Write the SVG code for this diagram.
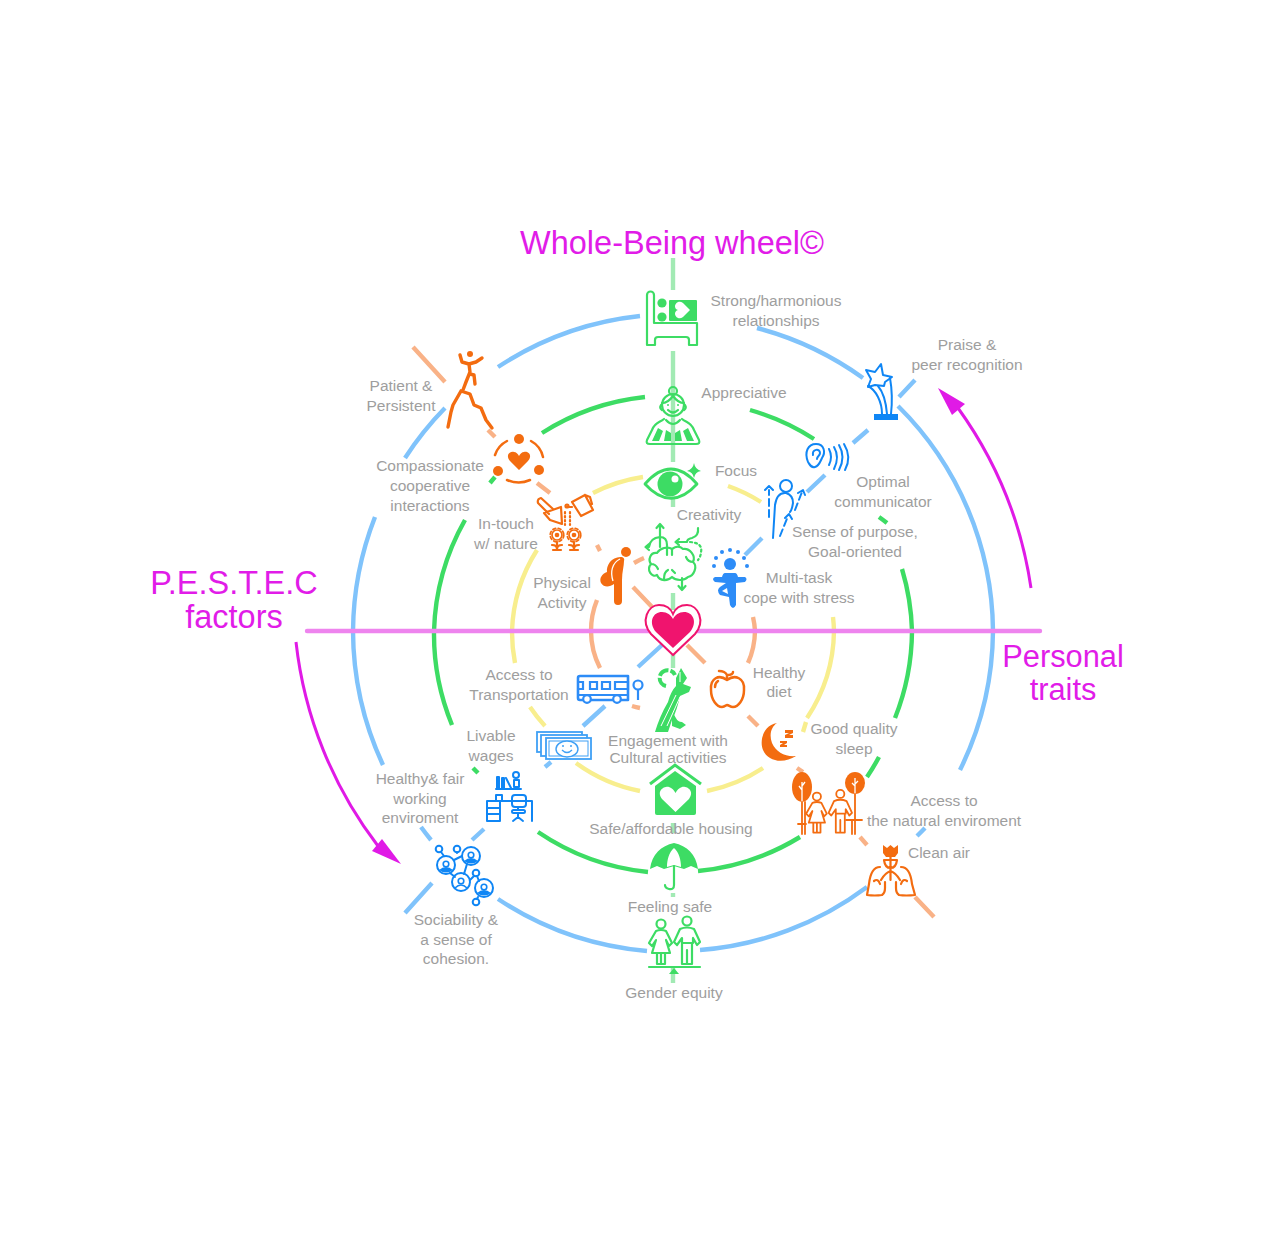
<svg xmlns="http://www.w3.org/2000/svg" width="1274" height="1235" viewBox="0 0 1274 1235">
<style>
text{font-family:"Liberation Sans",Arial,sans-serif;text-anchor:middle}
.l{font-size:15.5px;fill:#9e9e9e}
.t{font-size:32.5px;fill:#e11ce8}
.t2{font-size:30.8px;fill:#e11ce8}
.b,.g,.y,.o,.v,.h,.d1,.d2{fill:none;stroke-width:4.4}
.b{stroke:#80c3fb}.g{stroke:#3ddc64}.y{stroke:#f8ee8e}.o{stroke:#f9b287}
.v{stroke:#a2eab4}.h{stroke:#ee84ee;stroke-linecap:round}.d1{stroke:#f9b287}.d2{stroke:#80c3fb}
.gs{fill:none;stroke:#3ddc64;stroke-width:2.2;stroke-linecap:round;stroke-linejoin:round}
.gf{fill:#3ddc64}
.os{fill:none;stroke:#f36c10;stroke-width:2.2;stroke-linecap:round;stroke-linejoin:round}
.of{fill:#f36c10}
.bs{fill:none;stroke:#0f86f5;stroke-width:2;stroke-linecap:round;stroke-linejoin:round}
.bf{fill:#0f86f5}
.ws{fill:none;stroke:#3fa0f5;stroke-width:1.800}
.ms{fill:none;stroke:#e01ae6;stroke-width:3}
.mf{fill:#e01ae6}
</style>
<defs>
<g id="couple">
<circle cx="661" cy="924" r="4.500"/><circle cx="687" cy="921" r="4.500"/>
<path d="M656 931Q661 929 666 931L672 943L669 946L666 940L670 953H652L656 940L652 946L649 943ZM657 953V964H661V953M661 964H665V953"/>
<path d="M680 929Q687 926 694 929L700 942L697 945L693 938V943H682V938L677 945L674 942ZM682 943V964H687V950M687 964H692V943"/>
</g>
<g id="pc"><circle r="9" fill="none" stroke="#0f86f5" stroke-width="2"/><circle cy="-1" r="2.800" fill="none" stroke="#0f86f5" stroke-width="1.600"/></g>
<path id="sh" fill="#0f86f5" d="M-7 5Q0-1 7 5Q0 10-7 5Z"/>
</defs>
<g id="connectors">
<path class="b" d="M383 765A320 320 0 0 1 353 631A320 320 0 0 1 375 517M405 458A320 320 0 0 1 445 408M498 367A320 320 0 0 1 640 316M757 328A320 320 0 0 1 863 378M898 406A320 320 0 0 1 993 631A320 320 0 0 1 960 770M925 828A320 320 0 0 1 917 836M867 887A320 320 0 0 1 700 950M647 951A320 320 0 0 1 498 899M431 840A320 320 0 0 1 421 827"/>
<path class="g" d="M452 725A239 239 0 0 1 434 631A239 239 0 0 1 465 520M490 483A239 239 0 0 1 495 477M542 433A239 239 0 0 1 645 397M750 410A239 239 0 0 1 814 439M879 517A239 239 0 0 1 887 523M902 569A239 239 0 0 1 912 631A239 239 0 0 1 895 718M879 757A239 239 0 0 1 867 777M800 837A239 239 0 0 1 698 871M648 872A239 239 0 0 1 538 832M478 773A239 239 0 0 1 473 768"/>
<path class="y" d="M515 663A161 161 0 0 1 512 631A161 161 0 0 1 537 550M593 493A161 161 0 0 1 643 477M728 486A161 161 0 0 1 761 502M833 617A161 161 0 0 1 834 631A161 161 0 0 1 807 718M806 722L803 732M763 768A161 161 0 0 1 707 791M640 791A161 161 0 0 1 576 763M545 726A161 161 0 0 1 530 707"/>
<path class="o" d="M600 668A82 82 0 0 1 591 631A82 82 0 0 1 597 600M634 563A82 82 0 0 1 644 558M753 617A82 82 0 0 1 755 631A82 82 0 0 1 748 663M640 708A82 82 0 0 1 632 706"/>
<path class="v" d="M673 258V290M673 351V462M673 497V507M673 593V610M673 650V668M673 823V833M673 893V897M673 968V983"/>
<path class="d1" d="M413 347L445 382M488 430L495 437M537 483L550 493M597 545L600 551M633 587L653 608M687 645L705 663M748 716L758 726M797 768L803 772M860 837L867 845M915 897L934 917"/>
<path class="d2" d="M405 913L432 883M472 840L484 829M545 767L551 762M583 726L605 706M638 667L662 645M745 555L762 538M807 492L825 475M853 443L868 430M899 397L915 380"/>
<path class="h" d="M307 631H1040"/>
<path class="ms" d="M1031 588A410 410 0 0 0 958 408"/>
<polygon class="mf" points="938,388 965,404 952,415"/>
<path class="ms" d="M296 642A410 410 0 0 0 378 846"/>
<polygon class="mf" points="401,864 372,851 382,839"/>
</g>

<g id="titles">
<text class="t" x="672" y="254">Whole-Being wheel©</text>
<text class="t" x="234" y="594">P.E.S.T.E.C</text>
<text class="t" x="234" y="628">factors</text>
<text class="t2" x="1063" y="667">Personal</text>
<text class="t2" x="1063" y="700">traits</text>
</g>

<g id="node-heart">
<path fill="#fff" stroke="#f0146e" stroke-width="2" d="M673 655L651 634C640 621 648 605 659 605C666 605 671 609 673 614C675 609 680 605 687 605C698 605 706 621 695 634Z"/>
<path fill="#f0146e" d="M673 648L656 632C648 622 653 612 662 612C667 612 671 615 673 619C675 615 679 612 684 612C693 612 698 622 690 632Z"/>
</g>

<g id="node-relationships">
<path class="gs" d="M647 295a3.500 3.500 0 0 1 7 0V323H697V345H689V340a3 3 0 0 0-3-3H658a3 3 0 0 0-3 3V345H647Z"/>
<circle class="gf" cx="662" cy="303" r="4.600"/><circle class="gf" cx="662" cy="317" r="4.600"/>
<rect class="gf" x="669" y="300" width="28" height="21" rx="1"/>
<path fill="#fff" transform="translate(682 310) rotate(-90)" d="M0 8L-7 1C-10-3-7-7-3.500-7C-2-7-.5-6 0-4C.5-6 2-7 3.500-7C7-7 10-3 7 1Z"/>
<text class="l" x="776" y="306">Strong/harmonious</text><text class="l" x="776" y="326">relationships</text>
</g>

<g id="node-appreciative">
<circle class="gs" cx="673" cy="391" r="4"/>
<circle class="gs" cx="673" cy="405" r="11"/>
<path class="gs" d="M662 403Q668 403 673 396Q678 403 684 403M668 410Q673 415 678 410M661 405Q659 408 662 410M685 405Q687 408 684 410"/>
<circle class="gf" cx="668" cy="405" r="1"/><circle class="gf" cx="678" cy="405" r="1"/>
<path class="gs" d="M664 419C659 423 655 422 652 430L647 440C646 443 647 444 650 444H696C699 444 700 443 699 440L694 430C691 422 687 423 682 419M666 420Q673 428 680 420"/>
<path class="gf" d="M658 428L652 441H659L663 431ZM666 430L664 441H671L671 433ZM688 428L694 441H687L683 431ZM680 430L682 441H675L675 433Z"/>
<text class="l" x="744" y="398">Appreciative</text>
</g>

<g id="node-focus">
<path class="gs" d="M645 484C662 464 680 464 697 484C680 503 662 503 645 484Z" style="stroke-width:2.800"/>
<circle class="gf" cx="670" cy="484" r="12.500"/><circle fill="#fff" cx="675" cy="479" r="3.500"/>
<path class="gf" d="M694 463Q695 469 701 471Q695 472 694 478Q693 472 687 471Q693 469 694 463Z"/>
<text class="l" x="736" y="476">Focus</text>
</g>

<g id="node-creativity">
<path class="gs" d="M660 524V547M656.500 528L660 524L663.500 528M667 555V545Q667 537 660 537Q650 538 649 547H646M649 544L645.500 547L649 550M698 528Q699 536 692 538Q687 539 687 542H676M679 539L675.500 542L679 545"/>
<path class="gs" d="M657 553C650 552 648 560 651 564C646 570 652 578 657 575C660 582 668 581 672 577C676 581 684 581 688 577C694 576 698 566 693 562C696 556 690 548 683 549C680 546 676 546 672 549C668 546 660 548 657 553ZM672 549V555M682 578V589M678.500 586L682 590L685.500 586M651 564Q656 564 658 569M693 562Q688 562 686 557M664 579Q664 572 668 570M672 570L675 573"/>
<path class="gs" stroke-dasharray="2 3" d="M690 542Q703 543 701 552Q701 556 698 560"/>
<text class="l" x="709" y="520">Creativity</text>
</g>

<g id="node-physical">
<circle class="of" cx="626" cy="552" r="5"/>
<path class="of" d="M622 557C612 556 606 565 607 572C602 574 599 578 601 583C604 588 610 587 614 584V601Q614 605 618 605Q622 605 622 601V580C622 572 624 566 624 561Q625 558 622 557Z"/>
<path fill="none" stroke="#fff" stroke-width="1.300" d="M620 559C612 563 610 572 613 581"/>
<text class="l" x="562" y="588">Physical</text><text class="l" x="562" y="608">Activity</text>
</g>

<g id="node-multitask">
<circle fill="#2d8cf7" cx="730" cy="564" r="6"/>
<g fill="#2d8cf7"><circle cx="714" cy="566" r="2"/><circle cx="716" cy="558" r="2"/><circle cx="722" cy="552" r="2"/><circle cx="730" cy="550" r="2"/><circle cx="738" cy="552" r="2"/><circle cx="744" cy="558" r="2"/><circle cx="747" cy="566" r="2"/></g>
<path fill="#2d8cf7" d="M725 573H735Q737 573 738 577H745Q748 579 745 582L736 583V605Q733 611 730 605L729 597L720 595Q716 590 720 587L726 583L715 582Q711 579 715 577H722Q723 573 725 573Z"/>
<path fill="#fff" d="M727 588L722 591L728 594Z"/>
<text class="l" x="799" y="583">Multi-task</text><text class="l" x="799" y="603">cope with stress</text>
</g>

<g id="node-purpose">
<circle class="bs" cx="786" cy="486" r="6"/>
<path class="bs" d="M773 538L775 505Q777 492 786 493Q793 495 793 503Q792 510 790 512"/>
<path class="bs" stroke-dasharray="7 4" d="M769 517V490M780 536L788 516M795 510L802 492"/>
<path class="bs" d="M765 490l4-4 4 4M785 518l4-4 3 5M798 493l5-3 2 5"/>
<text class="l" x="855" y="537">Sense of purpose,</text><text class="l" x="855" y="557">Goal-oriented</text>
</g>

<g id="node-optimal">
<path class="bs" d="M808 462C804 452 808 444 816 444C824 444 826 452 822 458C820 462 819 466 815 467C811 468 810 465 808 462ZM813 455C812 449 820 448 820 453C820 456 817 456 817 459"/>
<path class="bs" d="M829 449Q833 457 829 465M834 447Q840 457 834 469M839 445Q846 457 839 470M844 444Q852 457 845 470"/>
<text class="l" x="883" y="487">Optimal</text><text class="l" x="883" y="507">communicator</text>
</g>

<g id="node-praise">
<path class="bs" d="M881 364L883 375L892 377L885 382L884 386L875 385L868 387L871 379L866 370L875 372Z"/>
<path class="bs" d="M868 386C876 390 882 402 882 414M878 386C884 393 886 402 887 414M890 378C893 395 892 405 891 414"/>
<rect class="bf" x="874" y="414" width="24" height="6"/>
<text class="l" x="967" y="350">Praise &amp;</text><text class="l" x="967" y="370">peer recognition</text>
</g>

<g id="node-patient">
<circle class="of" cx="470" cy="354" r="3"/>
<path class="os" style="stroke-width:3.400" d="M460 355L462 362L469 364L476 362L482 358M469 364L470 372L466 382L463 390M470 374L474 375L475 384M461 391L453 405L451 412L448 427M461 391L470 394L474 405L481 408L486 420L492 428"/>
<text class="l" x="401" y="391">Patient &amp;</text><text class="l" x="401" y="411">Persistent</text>
</g>

<g id="node-compassionate">
<circle class="of" cx="519" cy="439" r="5"/><circle class="of" cx="498" cy="471" r="5"/><circle class="of" cx="539" cy="470" r="5"/>
<path class="os" style="stroke-width:2.500" d="M507 441A24 24 0 0 0 495 455M531 441A24 24 0 0 1 543 457M507 480Q519 485 530 480"/>
<path class="of" d="M519 470L510 461C505 455 510 451 514 452C516 452 518 454 519 456C520 454 522 452 524 452C528 451 533 455 528 461Z"/>
<text class="l" x="430" y="471">Compassionate</text><text class="l" x="430" y="491">cooperative</text><text class="l" x="430" y="511">interactions</text>
</g>

<g id="node-nature">
<path class="os" d="M553 509L541 498Q537 499 538 503L549 514M561 507L562 524L550 520L544 513Z"/>
<path class="os" d="M572 502L585 495L593 510L581 516ZM585 495L590 497L592 504M572 507H567"/>
<circle class="os" cx="567" cy="506" r="1.500"/>
<path class="os" stroke-dasharray="1.500 2.500" d="M565 512V525M570 512V525"/>
<g class="os" style="stroke-width:1.700"><circle cx="557" cy="535" r="5"/><circle cx="574" cy="535" r="5"/><circle cx="557" cy="535" r="6.800" stroke-dasharray="3 2.500"/><circle cx="574" cy="535" r="6.800" stroke-dasharray="3 2.500"/></g>
<circle class="of" cx="557" cy="535" r="2.300"/><circle class="of" cx="574" cy="535" r="2.300"/>
<path class="os" d="M557 542V550M574 542V550M552 545Q557 545 557 549Q557 545 562 545M569 545Q574 545 574 549Q574 545 579 545M553 550H561M570 550H578"/>
<text class="l" x="506" y="529">In-touch</text><text class="l" x="506" y="549">w/ nature</text>
</g>

<g id="node-transport">
<path d="M580 676H628V700H580Q578 700 578 698V678Q578 676 580 676Z" fill="none" stroke="#2d8cf7" stroke-width="2.600" stroke-linejoin="round"/>
<path fill="none" stroke="#2d8cf7" stroke-width="2.200" d="M578 682H583V689H578M590 682H597V689H590ZM602 682H610V689H602ZM615 682H628V689H615ZM578 695H628"/>
<circle cx="587" cy="699" r="3.800" fill="#fff" stroke="#2d8cf7" stroke-width="2.200"/><circle cx="617" cy="699" r="3.800" fill="#fff" stroke="#2d8cf7" stroke-width="2.200"/>
<circle cx="638" cy="685" r="4.500" fill="none" stroke="#2d8cf7" stroke-width="2.200"/><path stroke="#2d8cf7" stroke-width="2.200" d="M638 690V700"/>
<text class="l" x="519" y="680">Access to</text><text class="l" x="519" y="700">Transportation</text>
</g>

<g id="node-culture">
<path fill="none" stroke="#3ddc64" stroke-width="4" stroke-dasharray="11 2" d="M666 686A8 8 0 1 1 675 675"/>
<path class="gf" d="M681 668L687 678L683 684L691 687L689 692L680 696C678 705 676 712 672 720L668 732L655 732C658 722 662 712 668 702C670 695 672 690 676 686L676 678Z"/>
<path class="gf" d="M672 712C676 716 676 722 682 722L686 725L680 729L672 726Z"/>
<path fill="none" stroke="#fff" stroke-width="1" d="M661 726L676 695M667 726L680 697M680 672V682"/>
<text class="l" x="668" y="746">Engagement with</text><text class="l" x="668" y="763">Cultural activities</text>
</g>

<g id="node-diet">
<path class="os" style="stroke-width:2.500" d="M727 680C719 674 710 678 711 690C711 700 717 707 722 707C725 707 726 705 727 705C729 705 730 707 733 707C738 707 744 700 744 690C745 678 735 674 727 680ZM727 680L727 675M719 671Q725 671 727 675Q733 675 733 672M715 687Q715 683 718 681"/>
<text class="l" x="779" y="678">Healthy</text><text class="l" x="779" y="697">diet</text>
</g>

<g id="node-wages">
<rect class="ws" x="537" y="732" width="45" height="20" style="fill:#fff"/>
<rect class="ws" x="541" y="735" width="46" height="21" style="fill:#fff"/>
<rect class="ws" x="546" y="738" width="45" height="21" style="fill:#fff"/>
<rect x="549" y="741" width="39" height="15" fill="none" stroke="#3fa0f5" stroke-width="1"/>
<ellipse cx="567" cy="749" rx="11" ry="8" fill="#fff" stroke="#3fa0f5" stroke-width="1.400"/>
<path fill="none" stroke="#3fa0f5" stroke-width="1.300" d="M562 750Q567 755 572 750"/><circle cx="563" cy="746" r="1" fill="#3fa0f5"/><circle cx="571" cy="746" r="1" fill="#3fa0f5"/>
<text class="l" x="491" y="741">Livable</text><text class="l" x="491" y="761">wages</text>
</g>

<g id="node-sleep">
<path class="of" d="M777 723C764 725 759 740 763 750C768 762 784 764 796 756C785 757 776 752 772 743C769 735 771 727 777 723Z"/>
<path class="of" d="M785 730H793V733L789 735H793V738H785V735L789 733H785ZM780 741H787V743L784 745H787V747H780V745L783 743H780Z"/>
<text class="l" x="854" y="734">Good quality</text><text class="l" x="854" y="754">sleep</text>
</g>

<g id="node-natural">
<ellipse class="of" cx="802" cy="787" rx="10" ry="15"/><ellipse class="of" cx="855" cy="783" rx="10" ry="11"/>
<path fill="none" stroke="#fff" stroke-width="1.300" d="M802 802V782M802 790l-3-4M802 786l3-4M855 794V778M855 786l-3-3M855 784l3-3"/>
<path class="os" style="stroke-width:1.800" d="M802 802V834M805 802V834M855 794V834M798 824H806M846 820H862M852 820V834"/>
<use href="#couple" class="os" style="stroke-width:2" transform="translate(222 -35) scale(.9)"/>
<text class="l" x="944" y="806">Access to</text><text class="l" x="944" y="826">the natural enviroment</text>
</g>

<g id="node-desk">
<path class="bs" d="M497 788V777H499V788M502 788V778H504V788M506 778L511 788M496 789H521M514 780H519V787H514Z"/>
<circle class="bs" cx="516" cy="775" r="3"/>
<path class="bs" d="M487 801H532V821M487 801V821H500V801M487 808H500M487 814H500M496 795H502V801H496Z"/>
<rect class="bs" x="512" y="795" width="14" height="12" rx="3"/>
<rect class="bs" x="512" y="810" width="13" height="3" rx="1.500"/>
<path class="bs" d="M518 807V810M518 813V817M513 821L518 817L523 821"/>
<text class="l" x="420" y="784">Healthy&amp; fair</text><text class="l" x="420" y="804">working</text><text class="l" x="420" y="823">enviroment</text>
</g>

<g id="node-social">
<path class="bs" d="M444 856L441 852M454 860L462 856M457 852V853M467 864L464 874M450 873L455 877M470 880L474 876M477 876L479 881M478 897L477 899"/>
<use href="#pc" x="446" y="865"/><use href="#pc" x="471" y="856"/><use href="#pc" x="461" y="882"/><use href="#pc" x="484" y="888"/>
<use href="#sh" x="446" y="865"/><use href="#sh" x="471" y="856"/><use href="#sh" x="484" y="888"/>
<path fill="none" stroke="#0f86f5" stroke-width="1.600" d="M455 888Q461 882 467 888"/>
<circle class="bs" cx="439" cy="849" r="3.300"/><circle class="bs" cx="457" cy="849" r="3.300"/><circle class="bs" cx="476" cy="873" r="3.300"/><circle class="bs" cx="476" cy="902" r="3.300"/>
<text class="l" x="456" y="925">Sociability &amp;</text><text class="l" x="456" y="945">a sense of</text><text class="l" x="456" y="964">cohesion.</text>
</g>

<g id="node-lungs">
<path class="of" d="M883 845L887 848L890.500 845L894 848L898 845V853L895 857H886L883 853Z"/>
<path class="os" d="M890.500 857V880M884 860Q885 868 890.500 868Q896 868 897 860M884 860H897M890.500 871Q885 873 881 880M890.500 871Q896 873 900 880"/>
<path class="os" d="M880 867C873 867 870 875 869 884L867 895Q875 896 882 895Q885 893 885 888V882M901 867C908 867 911 875 912 884L915 895Q906 896 899 895Q896 893 896 888V882M874 881Q878 878 880 884M907 881Q903 878 901 884"/>
<text class="l" x="939" y="858">Clean air</text>
</g>

<g id="node-housing">
<path fill="none" stroke="#3ddc64" stroke-width="3" d="M650 784L675 765L701 784"/>
<path class="gf" d="M655 786L675 771L696 786V813Q696 815 694 815H657Q655 815 655 813Z"/>
<path fill="#fff" d="M675.500 812L662 799C656 791 664 786 669 787C672 788 674 790 675.500 793C677 790 679 788 682 787C687 786 695 791 689 799Z"/>
<text class="l" x="671" y="834">Safe/affordable housing</text>
</g>

<g id="node-safe">
<path class="gf" d="M674 843C661 846 652 854 650 869L657 866L664 869L674 866L684 869L691 866L698 869C696 854 687 846 674 843Z"/>
<path fill="#fff" d="M674 848C669 852 667 860 667 867L674 865L681 867C681 860 679 852 674 848Z"/>
<path class="gs" d="M674 866V885Q674 890 669 889Q665 888 665 885"/>
<text class="l" x="670" y="912">Feeling safe</text>
</g>

<g id="node-gender">
<use href="#couple" class="gs"/>
<path class="gs" d="M649 967H700"/>
<path class="gf" d="M674 968L679 974H669Z"/>
<text class="l" x="674" y="998">Gender equity</text>
</g>
</svg>
